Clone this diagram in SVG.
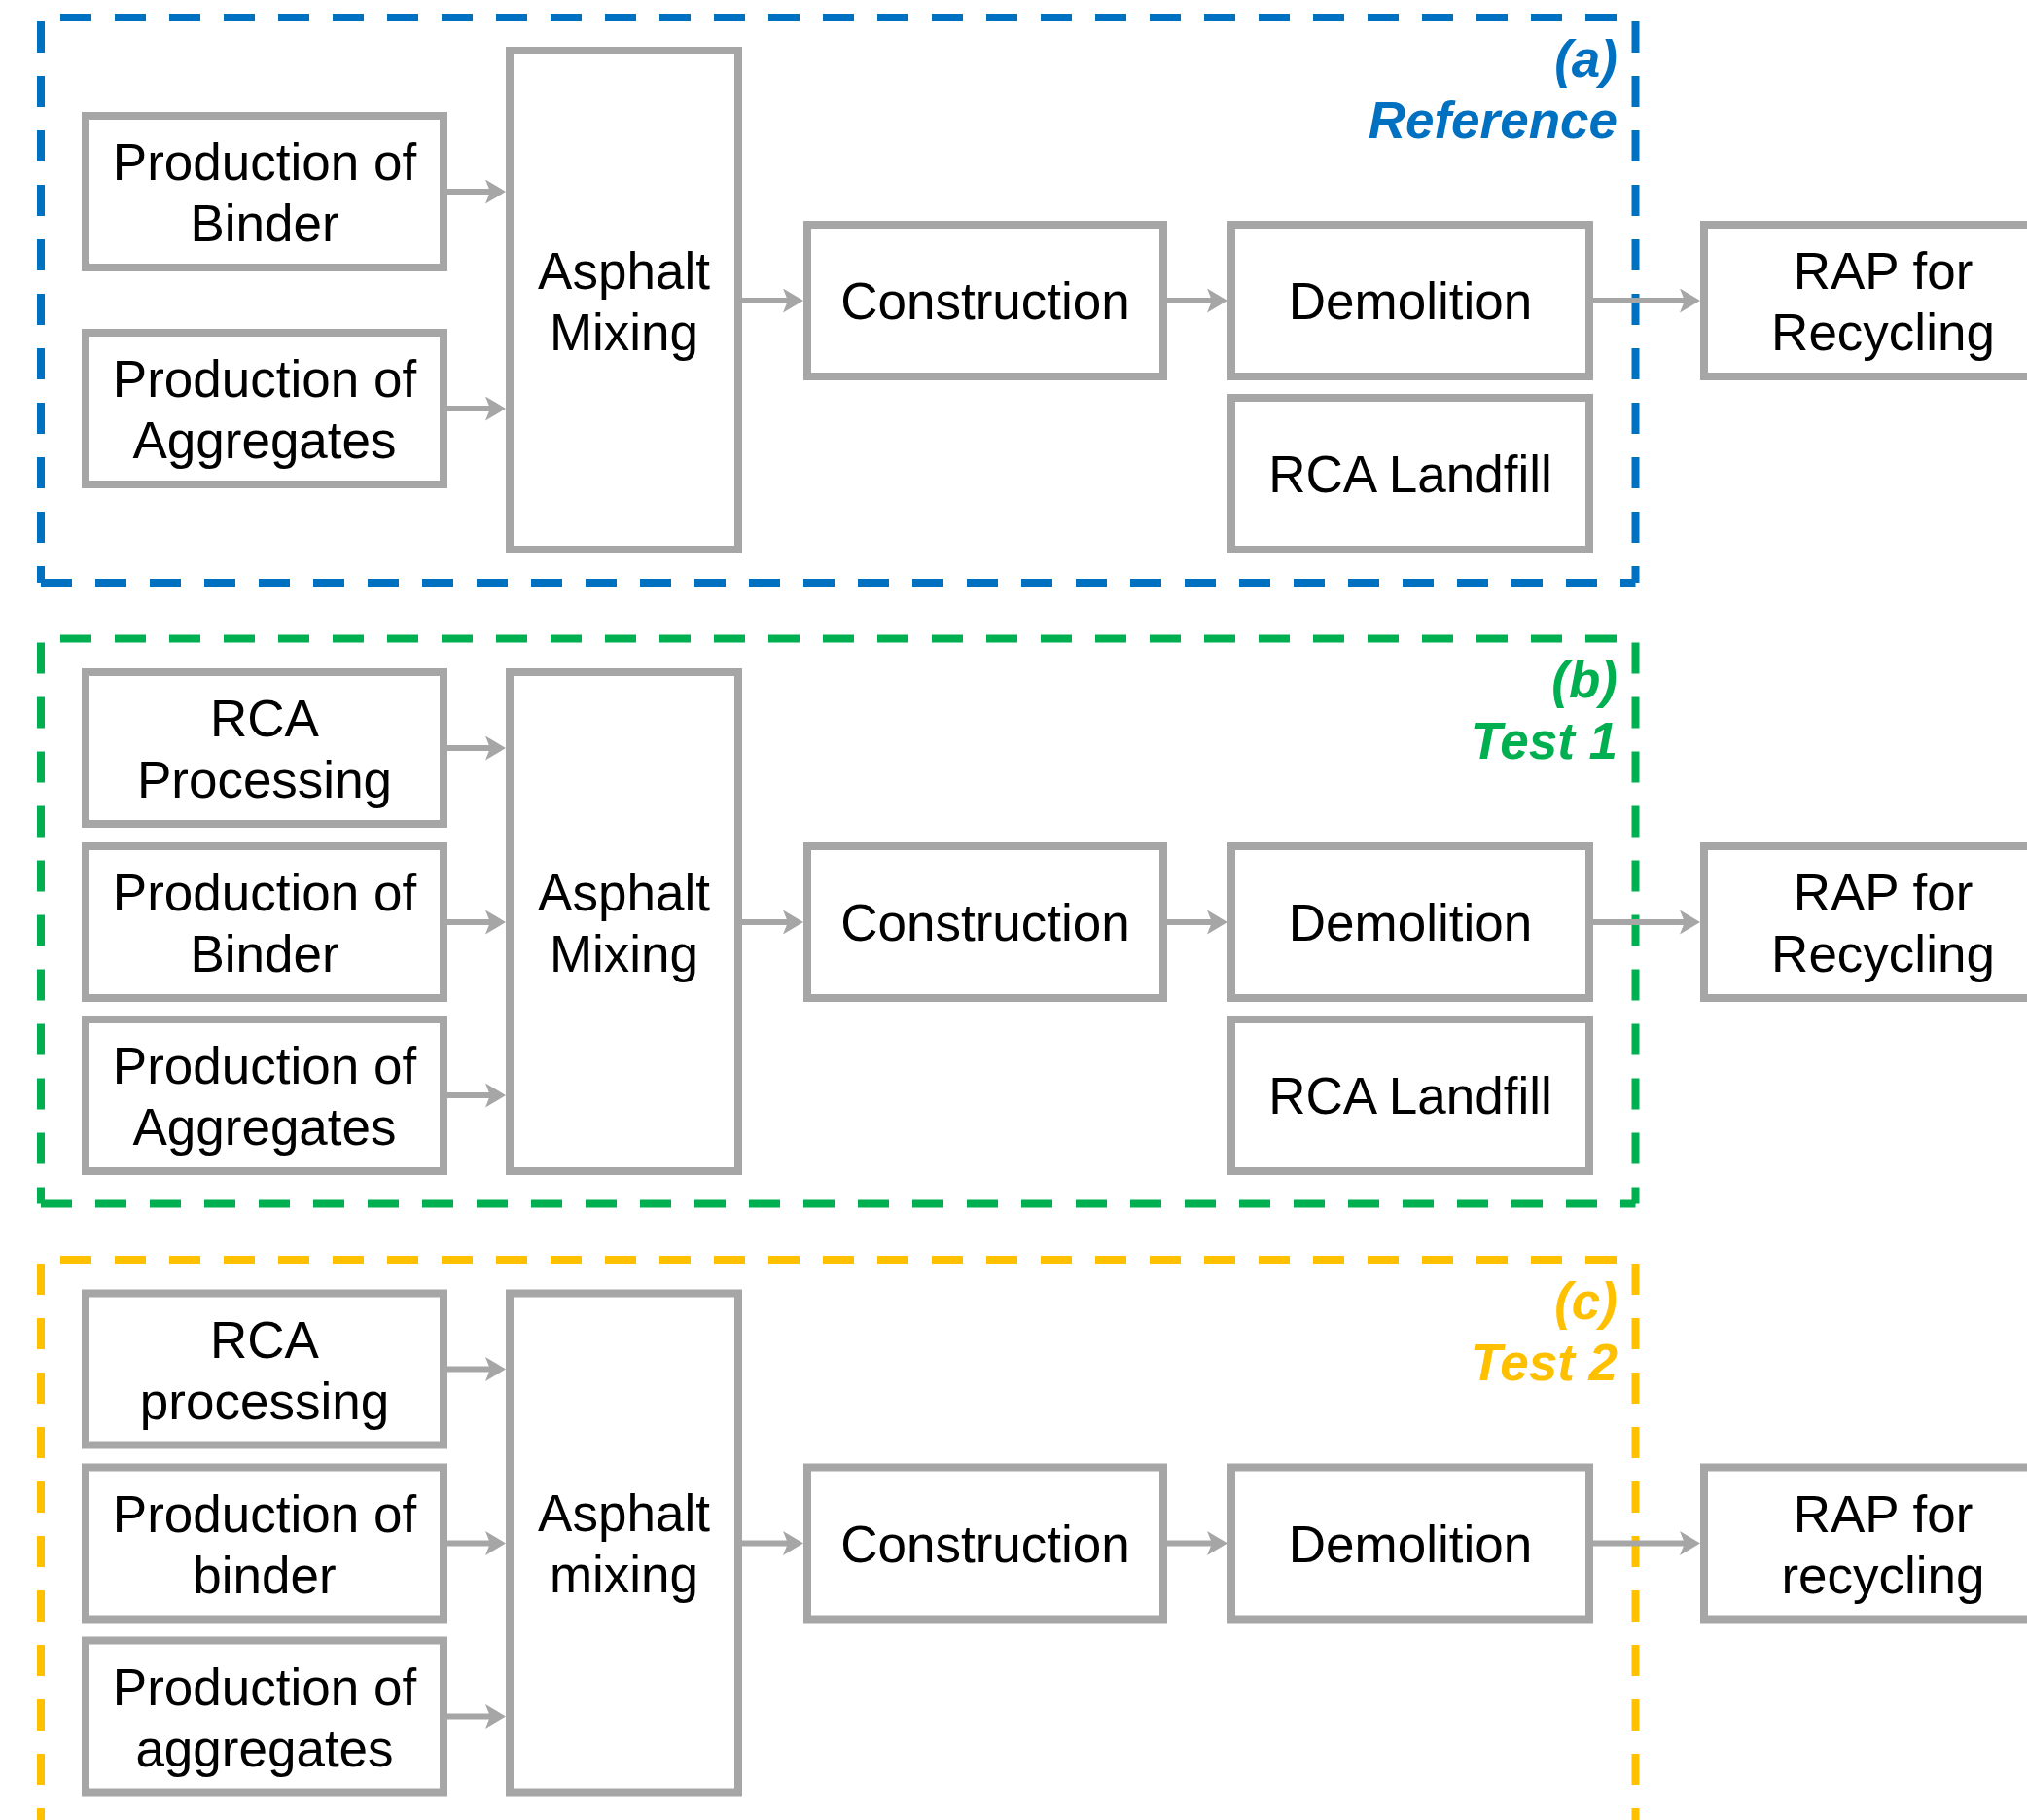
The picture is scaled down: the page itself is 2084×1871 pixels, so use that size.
<svg xmlns="http://www.w3.org/2000/svg" width="2084" height="1871" viewBox="0 0 2084 1871">
<defs>
<style>
.box{fill:#ffffff;stroke:#A6A6A6;stroke-width:8}
.t{font-family:"Liberation Sans",Arial,sans-serif;font-size:53px;fill:#000000;text-anchor:middle}
.lbl{font-family:"Liberation Sans",Arial,sans-serif;font-size:53px;font-weight:bold;font-style:italic;text-anchor:end}
.fr{fill:none;stroke-width:8;stroke-dasharray:32 24}
.top{stroke-dashoffset:36}
.side{stroke-dashoffset:52}
.bot{stroke-dashoffset:0}
.blue{stroke:#0070C0}
.green{stroke:#00B050}
.yellow{stroke:#FFC000}
.arr{stroke:#A6A6A6;stroke-width:6;fill:none;marker-end:url(#ah)}
</style>
<marker id="ah" markerUnits="userSpaceOnUse" viewBox="0 0 21 25" refX="9" refY="12.5" markerWidth="21" markerHeight="25" orient="auto">
<path d="M0,0 L21,12.5 L0,25 L5,12.5 Z" fill="#A6A6A6"/>
</marker>
</defs>
<rect width="2084" height="1871" fill="#ffffff"/>

<g id="frames">
<g id="frame-a">
<line class="fr top blue" x1="42" y1="18" x2="1681.5" y2="18"/>
<line class="fr side blue" x1="42" y1="18" x2="42" y2="599"/>
<line class="fr side blue" x1="1681.5" y1="18" x2="1681.5" y2="599"/>
<line class="fr bot blue" x1="42" y1="599" x2="1681.5" y2="599"/>
</g>
<g id="frame-b">
<line class="fr top green" x1="42" y1="656.5" x2="1681.5" y2="656.5"/>
<line class="fr side green" x1="42" y1="656.5" x2="42" y2="1237.5"/>
<line class="fr side green" x1="1681.5" y1="656.5" x2="1681.5" y2="1237.5"/>
<line class="fr bot green" x1="42" y1="1237.5" x2="1681.5" y2="1237.5"/>
</g>
<g id="frame-c">
<line class="fr top yellow" x1="42" y1="1295" x2="1681.5" y2="1295"/>
<line class="fr side yellow" x1="42" y1="1295" x2="42" y2="1880"/>
<line class="fr side yellow" x1="1681.5" y1="1295" x2="1681.5" y2="1880"/>
</g>
</g>

<g id="labels">
<text class="lbl" x="1663" y="78.5" fill="#0070C0">(a)</text>
<text class="lbl" x="1663" y="141.5" fill="#0070C0">Reference</text>
<text class="lbl" x="1663" y="717" fill="#00B050">(b)</text>
<text class="lbl" x="1663" y="780" fill="#00B050">Test 1</text>
<text class="lbl" x="1663" y="1355.5" fill="#FFC000">(c)</text>
<text class="lbl" x="1663" y="1418.5" fill="#FFC000">Test 2</text>
</g>

<g id="connectors">
<line class="arr" x1="460" y1="197" x2="508" y2="197"/>
<line class="arr" x1="460" y1="420" x2="508" y2="420"/>
<line class="arr" x1="763" y1="309" x2="814" y2="309"/>
<line class="arr" x1="1200" y1="309" x2="1250" y2="309"/>
<line class="arr" x1="1638" y1="309" x2="1736" y2="309"/>

<line class="arr" x1="460" y1="769" x2="508" y2="769"/>
<line class="arr" x1="460" y1="948" x2="508" y2="948"/>
<line class="arr" x1="460" y1="1126" x2="508" y2="1126"/>
<line class="arr" x1="763" y1="948" x2="814" y2="948"/>
<line class="arr" x1="1200" y1="948" x2="1250" y2="948"/>
<line class="arr" x1="1638" y1="948" x2="1736" y2="948"/>

<line class="arr" x1="460" y1="1407.5" x2="508" y2="1407.5"/>
<line class="arr" x1="460" y1="1586.5" x2="508" y2="1586.5"/>
<line class="arr" x1="460" y1="1764.5" x2="508" y2="1764.5"/>
<line class="arr" x1="763" y1="1586.5" x2="814" y2="1586.5"/>
<line class="arr" x1="1200" y1="1586.5" x2="1250" y2="1586.5"/>
<line class="arr" x1="1638" y1="1586.5" x2="1736" y2="1586.5"/>
</g>

<!-- Section (a) -->
<g id="a-binder"><rect class="box" x="88" y="119" width="368" height="156"/><text class="t" x="272" y="185">Production of</text><text class="t" x="272" y="248">Binder</text></g>
<g id="a-aggregates"><rect class="box" x="88" y="342" width="368" height="156"/><text class="t" x="272" y="408">Production of</text><text class="t" x="272" y="471">Aggregates</text></g>
<g id="a-asphalt"><rect class="box" x="524" y="52" width="235" height="513"/><text class="t" x="641.5" y="296.5">Asphalt</text><text class="t" x="641.5" y="359.5">Mixing</text></g>
<g id="a-construction"><rect class="box" x="830" y="231" width="366" height="156"/><text class="t" x="1013" y="328">Construction</text></g>
<g id="a-demolition"><rect class="box" x="1266" y="231" width="368" height="156"/><text class="t" x="1450" y="328">Demolition</text></g>
<g id="a-rcalandfill"><rect class="box" x="1266" y="409" width="368" height="156"/><text class="t" x="1450" y="506">RCA Landfill</text></g>
<g id="a-rap"><rect class="box" x="1752" y="231" width="368" height="156"/><text class="t" x="1936" y="297">RAP for</text><text class="t" x="1936" y="360">Recycling</text></g>

<!-- Section (b) -->
<g id="b-rca"><rect class="box" x="88" y="691" width="368" height="156"/><text class="t" x="272" y="757">RCA</text><text class="t" x="272" y="820">Processing</text></g>
<g id="b-binder"><rect class="box" x="88" y="870" width="368" height="156"/><text class="t" x="272" y="936">Production of</text><text class="t" x="272" y="999">Binder</text></g>
<g id="b-aggregates"><rect class="box" x="88" y="1048" width="368" height="156"/><text class="t" x="272" y="1114">Production of</text><text class="t" x="272" y="1177">Aggregates</text></g>
<g id="b-asphalt"><rect class="box" x="524" y="691" width="235" height="513"/><text class="t" x="641.5" y="935.5">Asphalt</text><text class="t" x="641.5" y="998.5">Mixing</text></g>
<g id="b-construction"><rect class="box" x="830" y="870" width="366" height="156"/><text class="t" x="1013" y="967">Construction</text></g>
<g id="b-demolition"><rect class="box" x="1266" y="870" width="368" height="156"/><text class="t" x="1450" y="967">Demolition</text></g>
<g id="b-rcalandfill"><rect class="box" x="1266" y="1048" width="368" height="156"/><text class="t" x="1450" y="1145">RCA Landfill</text></g>
<g id="b-rap"><rect class="box" x="1752" y="870" width="368" height="156"/><text class="t" x="1936" y="936">RAP for</text><text class="t" x="1936" y="999">Recycling</text></g>

<!-- Section (c) -->
<g id="c-rca"><rect class="box" x="88" y="1329.5" width="368" height="156"/><text class="t" x="272" y="1395.5">RCA</text><text class="t" x="272" y="1458.5">processing</text></g>
<g id="c-binder"><rect class="box" x="88" y="1508.5" width="368" height="156"/><text class="t" x="272" y="1574.5">Production of</text><text class="t" x="272" y="1637.5">binder</text></g>
<g id="c-aggregates"><rect class="box" x="88" y="1686.5" width="368" height="156"/><text class="t" x="272" y="1752.5">Production of</text><text class="t" x="272" y="1815.5">aggregates</text></g>
<g id="c-asphalt"><rect class="box" x="524" y="1329.5" width="235" height="513"/><text class="t" x="641.5" y="1574">Asphalt</text><text class="t" x="641.5" y="1637">mixing</text></g>
<g id="c-construction"><rect class="box" x="830" y="1508.5" width="366" height="156"/><text class="t" x="1013" y="1605.5">Construction</text></g>
<g id="c-demolition"><rect class="box" x="1266" y="1508.5" width="368" height="156"/><text class="t" x="1450" y="1605.5">Demolition</text></g>
<g id="c-rap"><rect class="box" x="1752" y="1508.5" width="368" height="156"/><text class="t" x="1936" y="1574.5">RAP for</text><text class="t" x="1936" y="1637.5">recycling</text></g>
</svg>
